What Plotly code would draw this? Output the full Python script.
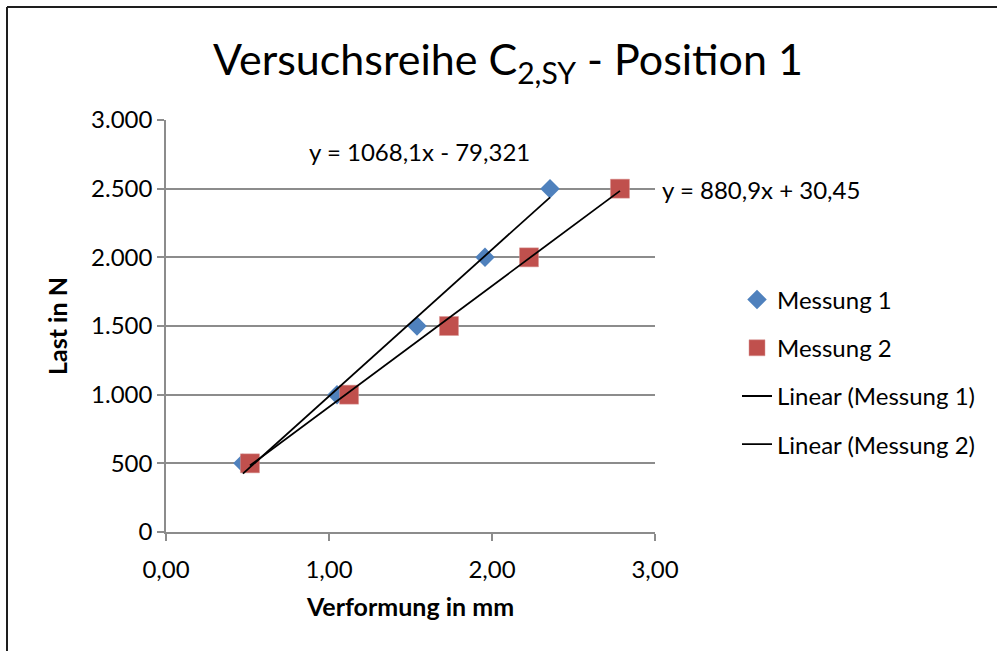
import plotly.graph_objects as go

# Data
x1 = [0.472, 1.049, 1.540, 1.957, 2.356]
y1 = [500, 1000, 1500, 2000, 2500]
x2 = [0.515, 1.123, 1.736, 2.227, 2.785]
y2 = [500, 1000, 1500, 2000, 2500]
series_names = ["Messung 1", "Messung 2"]
trend_names = ["Linear (Messung 1)", "Linear (Messung 2)"]
slopes = [1068.1, 880.9]
intercepts = [-79.321, 30.45]
eq_labels = ["y = 1068,1x - 79,321", "y = 880,9x + 30,45"]
x_ticks = [0, 1, 2, 3]
y_ticks = [0, 500, 1000, 1500, 2000, 2500, 3000]

FONT = "Lato"
BLUE = "#4F81BD"
RED = "#C0504D"
GRID = "#8C8C8C"

W, H = 997, 651
ML, MR, MT, MB = 166, 342, 120, 119
pw, ph = W - ML - MR, H - MT - MB

fig = go.Figure()
fig.add_trace(go.Scatter(x=x1, y=y1, mode="markers", name=series_names[0],
                         marker=dict(symbol="diamond", size=15, color=BLUE),
                         legendgroup="a"))
fig.add_trace(go.Scatter(x=x2, y=y2, mode="markers", name=series_names[1],
                         marker=dict(symbol="square", size=19, color=RED,
                                     line=dict(color="#D99694", width=0.5)),
                         legendgroup="b"))
for xs, m, b, nm, g in [(x1, slopes[0], intercepts[0], trend_names[0], "c"),
                        (x2, slopes[1], intercepts[1], trend_names[1], "d")]:
    xe = [min(xs), max(xs)]
    fig.add_trace(go.Scatter(x=xe, y=[m * v + b for v in xe], mode="lines", name=nm,
                             line=dict(color="black", width=1.8), legendgroup=g))

fig.add_annotation(x=1.558, y=2774, xref="x", yref="y", text=eq_labels[0],
                   showarrow=False, xanchor="center", yanchor="middle",
                   font=dict(family=FONT, size=24, color="black"))
fig.add_annotation(x=(660 - ML) / pw, y=(532 - 189) / ph, xref="paper", yref="paper",
                   text=eq_labels[1], showarrow=False, xanchor="left", yanchor="middle",
                   font=dict(family=FONT, size=24, color="black"))

# chart border (left and top visible)
xl = (7 - ML) / pw
yt = (532 - 7) / ph
fig.add_shape(type="line", xref="paper", yref="paper", x0=xl, x1=xl, y0=yt, y1=-1,
              line=dict(color="#1E1E1E", width=2))
fig.add_shape(type="line", xref="paper", yref="paper", x0=xl, x1=3, y0=yt, y1=yt,
              line=dict(color="#1E1E1E", width=2))

fig.update_layout(
    width=W, height=H,
    margin=dict(l=ML, r=MR, t=MT, b=MB),
    paper_bgcolor="white", plot_bgcolor="white",
    separators=",.",
    font=dict(family=FONT, size=24, color="black"),
    title=dict(text="Versuchsreihe C<sub>2,SY</sub> - Position 1",
               x=508 / W, xanchor="center", y=1 - 60 / H, yanchor="middle",
               font=dict(family=FONT, size=43, color="black")),
    showlegend=True,
    legend=dict(x=(737 - ML) / pw, y=(532 - 372) / ph, xanchor="left", yanchor="middle",
                tracegroupgap=14, font=dict(family=FONT, size=24, color="black"),
                bgcolor="rgba(0,0,0,0)"),
    xaxis=dict(range=[0, 3], tickvals=x_ticks, tickformat=".2f",
               showgrid=False, zeroline=False, showline=True, linecolor=GRID, linewidth=1.5,
               ticks="outside", ticklen=7, tickcolor=GRID, tickwidth=1.5,
               ticklabelstandoff=8,
               tickfont=dict(family=FONT, size=24),
               title=dict(text="<b>Verformung in mm</b>", standoff=17,
                          font=dict(family=FONT, size=25))),
    yaxis=dict(range=[0, 3000], tickvals=y_ticks, tickformat=",d",
               showgrid=True, gridcolor=GRID, gridwidth=1.5, zeroline=False,
               showline=True, linecolor=GRID, linewidth=1.5,
               ticks="outside", ticklen=7, tickcolor=GRID, tickwidth=1.5,
               tickfont=dict(family=FONT, size=24),
               title=dict(text="<b>Last in N</b>", standoff=16,
                          font=dict(family=FONT, size=25))),
)

fig.write_html("out.html")
